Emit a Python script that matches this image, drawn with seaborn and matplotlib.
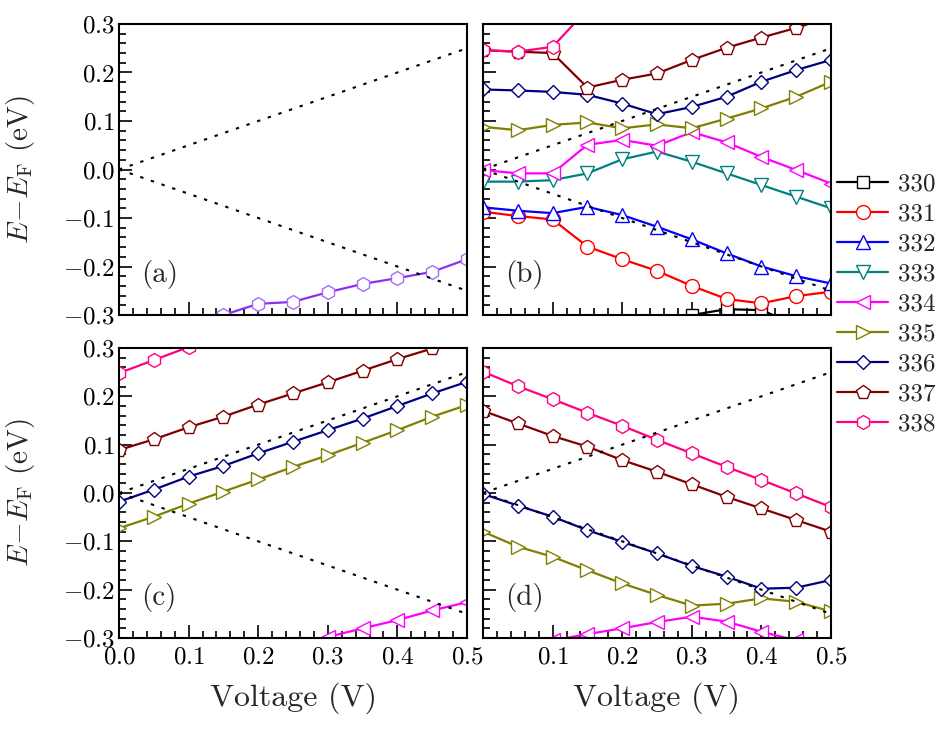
import numpy as np
import matplotlib
matplotlib.use("Agg")
import matplotlib.pyplot as plt
import seaborn as sns
from matplotlib.ticker import MultipleLocator, FuncFormatter

nan = np.nan

# bias voltage (V)
voltage = [0.0, 0.05, 0.10, 0.15, 0.20, 0.25, 0.30, 0.35, 0.40, 0.45, 0.50]

# bias window edges (+V/2 and -V/2)
window_x = [0.0, 0.5]
window_up = [0.0, 0.25]
window_down = [0.0, -0.25]

# panel (a)
a_purple = [nan, nan, nan, -0.300, -0.277, -0.273, -0.253, -0.236, -0.224, -0.211, -0.185]

# panel (b)
b330 = [nan, nan, nan, nan, nan, -0.330, -0.300, -0.288, -0.290, -0.320, nan]
b331 = [-0.087, -0.096, -0.103, -0.159, -0.185, -0.209, -0.240, -0.267, -0.276, -0.261, -0.252]
b332 = [-0.078, -0.085, -0.090, -0.077, -0.094, -0.118, -0.144, -0.173, -0.200, -0.220, -0.235]
b333 = [-0.025, -0.025, -0.022, -0.008, 0.021, 0.037, 0.016, -0.008, -0.032, -0.056, -0.080]
b334 = [-0.001, -0.008, -0.008, 0.051, 0.061, 0.049, 0.077, 0.056, 0.026, -0.001, -0.029]
b335 = [0.088, 0.081, 0.092, 0.097, 0.085, 0.093, 0.085, 0.105, 0.126, 0.150, 0.181]
b336 = [0.165, 0.163, 0.160, 0.154, 0.136, 0.114, 0.129, 0.150, 0.181, 0.205, 0.226]
b337 = [0.246, 0.243, 0.240, 0.169, 0.185, 0.198, 0.226, 0.251, 0.272, 0.292, 0.315]
b338 = [0.246, 0.243, 0.253, 0.330, nan, nan, nan, nan, nan, nan, nan]

# panel (c)
c334 = [nan, nan, nan, nan, nan, -0.310, -0.298, -0.280, -0.263, -0.243, -0.226]
c335 = [-0.073, -0.049, -0.022, 0.003, 0.028, 0.054, 0.078, 0.104, 0.130, 0.158, 0.182]
c336 = [-0.018, 0.007, 0.034, 0.056, 0.082, 0.106, 0.130, 0.154, 0.180, 0.206, 0.230]
c337 = [0.089, 0.111, 0.136, 0.158, 0.183, 0.206, 0.229, 0.253, 0.277, 0.299, 0.320]
c338 = [0.248, 0.275, 0.302, 0.330, nan, nan, nan, nan, nan, nan, nan]

# panel (d)
d334 = [nan, nan, -0.305, -0.292, -0.280, -0.267, -0.256, -0.266, -0.287, -0.305, nan]
d335 = [-0.080, -0.111, -0.132, -0.160, -0.187, -0.211, -0.233, -0.229, -0.218, -0.225, -0.245]
d336 = [-0.002, -0.026, -0.049, -0.077, -0.101, -0.125, -0.151, -0.173, -0.198, -0.196, -0.180]
d337 = [0.170, 0.144, 0.118, 0.096, 0.068, 0.044, 0.018, -0.008, -0.032, -0.056, -0.080]
d338 = [0.251, 0.221, 0.194, 0.166, 0.139, 0.110, 0.082, 0.054, 0.027, -0.001, -0.029]

labels = ["330", "331", "332", "333", "334", "335", "336", "337", "338"]
colors = ["#000000", "#ff0000", "#0000ff", "#008080", "#ff00ff",
          "#808000", "#000080", "#800000", "#ff0080"]
markers = ["s", "o", "^", "v", "<", ">", "D", "p", "h"]
msizes = [9, 10, 10, 10, 10, 10, 7.5, 10, 10]
style = {lab: (c, m, s) for lab, c, m, s in zip(labels, colors, markers, msizes)}

sns.set_style("ticks")
plt.rcParams["font.family"] = ["cmr10", "DejaVu Serif"]
plt.rcParams["mathtext.fontset"] = "cm"
plt.rcParams["axes.unicode_minus"] = True

fig = plt.figure(figsize=(9.51, 7.30), dpi=100)

W, H = 951.0, 730.0
x_left = [119, 483]
y_top = [(24, 315), (348, 638)]
axes = {}
for r, name_row in enumerate([("a", "b"), ("c", "d")]):
    for c, name in enumerate(name_row):
        t, b = y_top[r]
        axes[name] = fig.add_axes([x_left[c] / W, 1 - b / H, 348 / W, (b - t) / H])


def draw(ax, ys, lab):
    col, mk, ms = style[lab]
    sns.lineplot(x=voltage, y=ys, ax=ax, color=col, lw=1.6, marker=mk,
                 markersize=ms, markerfacecolor="white", markeredgecolor=col,
                 markeredgewidth=1.0, label=lab, legend=False, sort=False)


def window(ax):
    for ys in (window_up, window_down):
        sns.lineplot(x=window_x, y=ys, ax=ax, color="black", lw=1.5,
                     linestyle=(0, (1.6, 3.8)), legend=False, zorder=5)


ax = axes["a"]
sns.lineplot(x=voltage, y=a_purple, ax=ax, color="#8b2ff0", lw=1.6, marker="h",
             markersize=10, markerfacecolor="white", markeredgecolor="#a46cff",
             markeredgewidth=1.0, legend=False)
window(ax)

ax = axes["b"]
for lab, ys in zip(labels, [b330, b331, b332, b333, b334, b335, b336, b337, b338]):
    draw(ax, ys, lab)
window(ax)

ax = axes["c"]
for lab, ys in zip(["334", "335", "336", "337", "338"], [c334, c335, c336, c337, c338]):
    draw(ax, ys, lab)
window(ax)

ax = axes["d"]
for lab, ys in zip(["334", "335", "336", "337", "338"], [d334, d335, d336, d337, d338]):
    draw(ax, ys, lab)
window(ax)


def tick_fmt(v, p):
    if abs(v) < 1e-9:
        v = 0.0
    return "$%.1f$" % v


def tick_fmt_d(v, p):
    # panel (d) leaves out its 0.0 so it does not collide with (c)'s 0.5
    if abs(v) < 1e-9:
        return ""
    return "$%.1f$" % v


for name, ax in axes.items():
    if ax.get_legend() is not None:
        ax.get_legend().remove()
    ax.set_xlim(0, 0.5)
    ax.set_ylim(-0.3, 0.3)
    ax.xaxis.set_major_locator(MultipleLocator(0.1))
    ax.xaxis.set_minor_locator(MultipleLocator(0.02))
    ax.yaxis.set_major_locator(MultipleLocator(0.1))
    ax.yaxis.set_minor_locator(MultipleLocator(0.02))
    ax.xaxis.set_major_formatter(FuncFormatter(tick_fmt_d if name == "d" else tick_fmt))
    ax.yaxis.set_major_formatter(FuncFormatter(tick_fmt))
    ax.tick_params(which="both", direction="in", top=False, right=False,
                   width=1.2, labelsize=18, colors="black")
    ax.tick_params(which="major", length=9.5)
    ax.tick_params(which="minor", length=5)
    ax.tick_params(axis="x", pad=6)
    ax.tick_params(axis="y", pad=3)
    for sp in ax.spines.values():
        sp.set_linewidth(1.5)
        sp.set_color("black")
    ax.set_xlabel("")
    ax.set_ylabel("")
    if name in ("a", "b"):
        ax.tick_params(labelbottom=False)
    if name in ("b", "d"):
        ax.tick_params(labelleft=False)
    if name in ("a", "c"):
        ax.set_ylabel(r"$E\!-\!E_{\rm F}$ (eV)", fontsize=21)
        ax.yaxis.set_label_coords(-0.235, 0.5)
    if name in ("c", "d"):
        ax.set_xlabel("Voltage (V)", fontsize=23)
        ax.xaxis.set_label_coords(0.5, -0.155)
    ax.text(0.065, 0.14, "(%s)" % name, transform=ax.transAxes, fontsize=21,
            va="center", ha="left")

handles, labs = axes["b"].get_legend_handles_labels()
fig.legend(handles, labs, loc="upper left", bbox_to_anchor=(837 / W, 1 - 173 / H),
           frameon=False, fontsize=18, handlelength=2.05, handletextpad=0.4,
           labelspacing=0.3, borderpad=0, borderaxespad=0, numpoints=1)

fig.savefig("out.png", dpi=100)
